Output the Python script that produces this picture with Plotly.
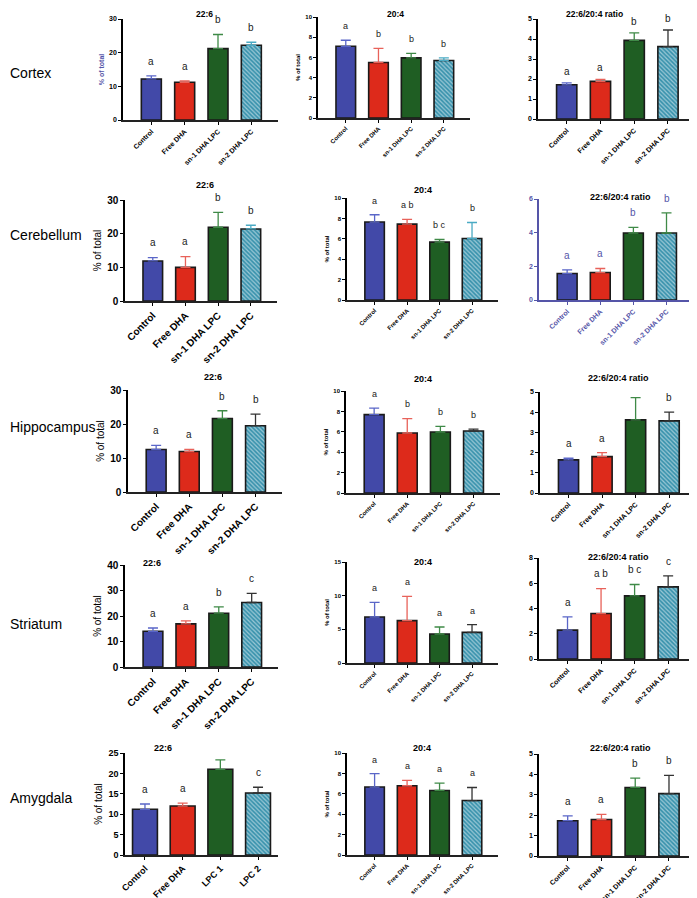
import plotly.graph_objects as go
from plotly.subplots import make_subplots

# groups and panels
regions = ["Cortex", "Cerebellum", "Hippocampus", "Striatum", "Amygdala"]
groups = ["Control", "Free DHA", "sn-1 DHA LPC", "sn-2 DHA LPC"]
groups_amygdala_dha = ["Control", "Free DHA", "LPC 1", "LPC 2"]
panel_titles = ["22:6", "20:4", "22:6/20:4 ratio"]

# % of total (mean, SD) and significance letters
cortex_dha = [12.2, 11.2, 21.2, 22.2]
cortex_dha_err = [0.9, 0.4, 4.2, 0.9]
cortex_dha_sig = ["a", "a", "b", "b"]
cortex_aa = [7.1, 5.5, 5.95, 5.7]
cortex_aa_err = [0.6, 1.4, 0.45, 0.25]
cortex_aa_sig = ["a", "b", "b", "b"]
cortex_ratio = [1.71, 1.88, 3.93, 3.62]
cortex_ratio_err = [0.1, 0.1, 0.38, 0.83]
cortex_ratio_sig = ["a", "a", "b", "b"]

cerebellum_dha = [11.9, 10.0, 21.9, 21.4]
cerebellum_dha_err = [1.0, 3.2, 4.4, 1.1]
cerebellum_dha_sig = ["a", "a", "b", "b"]
cerebellum_aa = [7.64, 7.44, 5.67, 6.03]
cerebellum_aa_err = [0.72, 0.46, 0.26, 1.57]
cerebellum_aa_sig = ["a", "a b", "b c", "b"]
cerebellum_ratio = [1.57, 1.63, 3.98, 3.98]
cerebellum_ratio_err = [0.22, 0.24, 0.33, 1.19]
cerebellum_ratio_sig = ["a", "a", "b", "b"]

hippocampus_dha = [12.5, 11.9, 21.6, 19.5]
hippocampus_dha_err = [1.2, 0.6, 2.3, 3.4]
hippocampus_dha_sig = ["a", "a", "b", "b"]
hippocampus_aa = [7.68, 5.88, 5.98, 6.08]
hippocampus_aa_err = [0.65, 1.41, 0.56, 0.19]
hippocampus_aa_sig = ["a", "b", "b", "b"]
hippocampus_ratio = [1.64, 1.8, 3.62, 3.57]
hippocampus_ratio_err = [0.08, 0.2, 1.1, 0.43]
hippocampus_ratio_sig = ["a", "a", "b", "b"]

striatum_dha = [14.0, 16.9, 21.1, 25.3]
striatum_dha_err = [1.3, 1.2, 2.5, 3.6]
striatum_dha_sig = ["a", "a", "b", "c"]
striatum_aa = [6.83, 6.29, 4.31, 4.55]
striatum_aa_err = [2.17, 3.6, 1.04, 1.15]
striatum_aa_sig = ["a", "a", "a", "a"]
striatum_ratio = [2.29, 3.6, 5.0, 5.71]
striatum_ratio_err = [1.05, 1.98, 0.9, 0.87]
striatum_ratio_sig = ["a", "a b", "b c", "c"]

amygdala_dha = [11.2, 12.0, 21.0, 15.2]
amygdala_dha_err = [1.3, 0.7, 2.3, 1.4]
amygdala_dha_sig = ["a", "a", "b", "c"]
amygdala_aa = [6.66, 6.79, 6.33, 5.34]
amygdala_aa_err = [1.31, 0.52, 0.72, 1.28]
amygdala_aa_sig = ["a", "a", "a", "a"]
amygdala_ratio = [1.73, 1.79, 3.36, 3.06]
amygdala_ratio_err = [0.24, 0.25, 0.46, 0.89]
amygdala_ratio_sig = ["a", "a", "b", "b"]

data = [
    [(cortex_dha, cortex_dha_err, cortex_dha_sig), (cortex_aa, cortex_aa_err, cortex_aa_sig),
     (cortex_ratio, cortex_ratio_err, cortex_ratio_sig)],
    [(cerebellum_dha, cerebellum_dha_err, cerebellum_dha_sig), (cerebellum_aa, cerebellum_aa_err, cerebellum_aa_sig),
     (cerebellum_ratio, cerebellum_ratio_err, cerebellum_ratio_sig)],
    [(hippocampus_dha, hippocampus_dha_err, hippocampus_dha_sig), (hippocampus_aa, hippocampus_aa_err, hippocampus_aa_sig),
     (hippocampus_ratio, hippocampus_ratio_err, hippocampus_ratio_sig)],
    [(striatum_dha, striatum_dha_err, striatum_dha_sig), (striatum_aa, striatum_aa_err, striatum_aa_sig),
     (striatum_ratio, striatum_ratio_err, striatum_ratio_sig)],
    [(amygdala_dha, amygdala_dha_err, amygdala_dha_sig), (amygdala_aa, amygdala_aa_err, amygdala_aa_sig),
     (amygdala_ratio, amygdala_ratio_err, amygdala_ratio_sig)],
]

# axis maxima and tick steps
y_max = [[30, 10, 5], [30, 10, 6], [30, 10, 5], [40, 15, 8], [25, 10, 5]]
y_dtick = [[10, 2, 1], [10, 2, 2], [10, 2, 1], [10, 5, 2], [5, 2, 1]]

# page pixels: the html body keeps an 8px margin, so the figure is shrunk by it
PAD = 8
W, H = 697 - PAD, 898 - PAD


def px_x(v):
    return (max(v, PAD) - PAD) / W


def px_y(v):
    return 1 - (max(v, PAD) - PAD) / H


# (left, right, top, bottom) of each plot area in window pixels
boxes = [
    [(123, 278, 19, 120), (318, 470, 17, 118), (538, 695, 19, 119)],
    [(125, 277, 200, 301), (347, 498, 198, 300), (539, 693, 199, 300)],
    [(128, 282, 390, 492), (346, 500, 391, 493), (540, 696, 392, 493)],
    [(125, 278, 565, 667), (347, 498, 562, 663), (539, 695, 558, 659)],
    [(125, 278, 753, 855), (347, 498, 753, 855), (539, 696, 754, 856)],
]
title_pos = [
    [(205, 8), (395, 8), (594, 8)],
    [(205, 185), (423, 190), (620, 197)],
    [(213, 377), (423, 379), (618, 378)],
    [(152, 563), (423, 562), (618, 557)],
    [(163, 748), (422, 748), (620, 748)],
]
label_y = [73, 235, 427, 624, 798]

bar_colors = ["#4249a8", "#dd2a1b", "#1f5e23", "#3a93ad"]
err_colors = ["#5a66c8", "#e8625a", "#3f8a47", "#4aaac4"]
FONT = "Liberation Sans"
PURPLE = "#5555a8"

fig = make_subplots(rows=5, cols=3)

for r in range(5):
    for c in range(3):
        means, errs, sig = data[r][c]
        cats = groups_amygdala_dha if (r == 4 and c == 0) else groups
        n = r * 3 + c + 1
        ecols = list(err_colors)
        if (r, c) not in [(0, 0), (0, 1), (1, 0), (1, 1), (1, 2)]:
            ecols[3] = "#333333"
        if (r, c) == (1, 2):
            ecols[3] = "#3f8a47"
        gap = 0.04 if (r, c) == (0, 2) else 0.07
        for i in range(4):
            fig.add_trace(go.Bar(
                x=[cats[i]], y=[means[i]],
                width=0.66 if (r == 4 and c == 0) else 0.6,
                marker=dict(
                    color=bar_colors[i] if i < 3 else "white",
                    line=dict(color="#1a1a1a", width=1.6),
                    pattern=dict(shape="\\", fgcolor="#ffffff", bgcolor=bar_colors[3],
                                 size=3, solidity=0.4) if i == 3 else None,
                ),
                error_y=dict(type="data", symmetric=False, array=[errs[i]], arrayminus=[0],
                             color=ecols[i], thickness=1.3, width=5),
                showlegend=False, hoverinfo="skip",
            ), row=r + 1, col=c + 1)
            fig.add_annotation(
                x=cats[i], y=means[i] + errs[i] + gap * y_max[r][c],
                xref="x" if n == 1 else f"x{n}", yref="y" if n == 1 else f"y{n}",
                text=sig[i], showarrow=False, yanchor="bottom",
                font=dict(family=FONT, size=10 if c != 1 else 9,
                          color=PURPLE if (r, c) == (1, 2) else "#222222"),
            )

        left, right, top, bottom = boxes[r][c]
        big = (c == 0 and r > 0)
        tick_size = (9 if r == 4 else 10) if big else (7 if c != 1 else 6)
        axis_col = PURPLE if (r, c) == (1, 2) else "black"
        xr = [-0.53, 3.53] if (r == 4 and c == 0) else [-0.85, 3.8]
        fig.update_xaxes(
            domain=[px_x(left), px_x(right)], range=xr, tickangle=-45, automargin=False,
            showline=True, linecolor=axis_col if (r, c) == (1, 2) else "#222222", linewidth=1.5,
            ticks="outside", ticklen=3, tickcolor=axis_col,
            tickfont=dict(family=FONT, size=tick_size, weight="bold", color=axis_col),
            showgrid=False, zeroline=False, fixedrange=True,
            row=r + 1, col=c + 1,
        )
        ytitle = "" if c == 2 else "% of total"
        ytitle_font = dict(family=FONT, size=10 if big else 6, color="black",
                           weight="normal" if big else "bold")
        if (r, c) == (0, 0):
            ytitle_font = dict(family=FONT, size=7, color=PURPLE, weight="bold")
        fig.update_yaxes(
            domain=[px_y(bottom), px_y(top)], range=[0, y_max[r][c]], dtick=y_dtick[r][c],
            automargin=False,
            showline=True, linecolor=axis_col, linewidth=1.5,
            ticks="outside", ticklen=3, tickcolor=axis_col,
            tickfont=dict(family=FONT, size=tick_size, weight="bold", color=axis_col),
            title=dict(text=ytitle, font=ytitle_font, standoff=4),
            showgrid=False, zeroline=False, fixedrange=True,
            row=r + 1, col=c + 1,
        )

        tx, ty = title_pos[r][c]
        fig.add_annotation(
            x=px_x(tx), y=px_y(ty), xref="paper", yref="paper", showarrow=False,
            text=panel_titles[c], xanchor="center",
            yanchor="top" if r == 0 else "middle", yshift=1 if r == 0 else 0,
            font=dict(family=FONT, size=8.5 if r == 0 else 9, weight="bold", color="black"),
        )

    fig.add_annotation(
        x=px_x(0), y=px_y(label_y[r]), xref="paper", yref="paper", showarrow=False,
        text=regions[r], xanchor="left", yanchor="middle",
        font=dict(family=FONT, size=14, color="black"),
    )

fig.update_layout(
    width=W, height=H,
    margin=dict(l=0, r=0, t=0, b=0),
    paper_bgcolor="white", plot_bgcolor="white",
    barmode="overlay", bargap=0.4,
)

fig.write_html("out.html")
